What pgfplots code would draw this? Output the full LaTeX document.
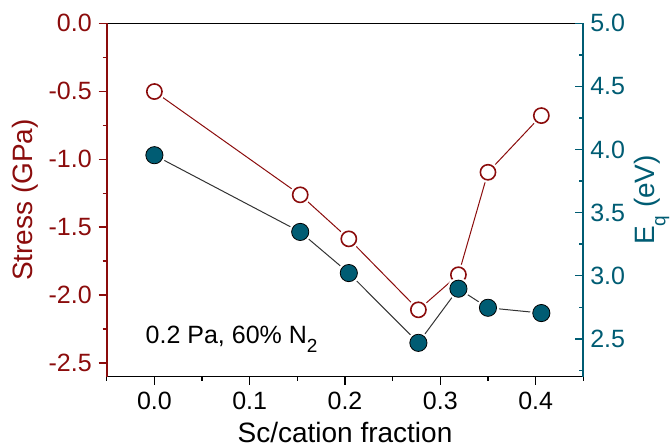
\documentclass[border=0pt]{standalone}
\usepackage{fontspec}
\setmainfont{Liberation Sans}
\usepackage{pgfplots}
\pgfplotsset{compat=1.18}
\definecolor{sred}{RGB}{139,12,12}
\definecolor{steal}{RGB}{0,92,115}
\newcommand{\lsub}[1]{\raisebox{-0.38em}{\fontsize{9.5}{10}\selectfont #1}}
\begin{document}
\begin{tikzpicture}
\begin{axis}[
  scale only axis, width=238.3pt, height=176.7pt,
  xmin=-0.05, xmax=0.45, ymin=-2.6, ymax=0,
  separate axis lines,
  x axis line style={black, line width=0.8pt},
  y axis line style={sred, line width=0.8pt},
  xtick={0,0.1,0.2,0.3,0.4},
  xticklabels={0.0,0.1,0.2,0.3,0.4},
  minor xtick={-0.05,0.05,0.15,0.25,0.35,0.45},
  ytick={-2.5,-2,-1.5,-1,-0.5,0},
  yticklabels={-2.5,-2.0,-1.5,-1.0,-0.5,0.0},
  minor ytick={-2.25,-1.75,-1.25,-0.75,-0.25},
  xtick pos=left, ytick pos=left, tick align=outside,
  major tick length=4pt, minor tick length=2pt,
  x tick style={black, line width=0.7pt},
  y tick style={sred, line width=0.7pt},
  yticklabel style={text=sred},
  tick label style={font=\fontsize{12.5}{15}\selectfont},
  label style={font=\fontsize{14}{17}\selectfont},
  xlabel={Sc/cation fraction},
  ylabel={Stress (GPa)},
  ylabel style={text=sred, at={(axis description cs:-0.170,0.5)}, anchor=center},
  xlabel style={at={(axis description cs:0.5,-0.187)}, anchor=base},
  clip=false,
]
\addplot[sred, line width=0.5pt] coordinates {(0,-0.502) (0.153,-1.262) (0.204,-1.586) (0.277,-2.108) (0.319,-1.850) (0.350,-1.096) (0.406,-0.679)};
\addplot[only marks, mark=*, mark size=5.1pt, white] coordinates {(0,-0.502) (0.153,-1.262) (0.204,-1.586) (0.277,-2.108) (0.319,-1.850) (0.350,-1.096) (0.406,-0.679)};
\addplot[only marks, mark=*, mark size=3.8pt, line width=0.8pt, mark options={draw=sred, fill=white}] coordinates {(0,-0.502) (0.153,-1.262) (0.204,-1.586) (0.277,-2.108) (0.319,-1.850) (0.350,-1.096) (0.406,-0.679)};
\node[anchor=base west, font=\fontsize{12.5}{15}\selectfont] at (axis description cs:0.067,0.095) {0.2 Pa, 60\% N\lsub{2}};
\coordinate (bbl) at (axis description cs:-0.224,-0.196);
\coordinate (btr) at (axis description cs:1.182,1.066);
\end{axis}
\begin{axis}[
  scale only axis, width=238.3pt, height=176.7pt,
  xmin=-0.05, xmax=0.45, ymin=2.2, ymax=5,
  axis x line=none, axis y line*=right,
  y axis line style={steal, line width=0.8pt},
  ytick={2.5,3,3.5,4,4.5,5},
  yticklabels={2.5,3.0,3.5,4.0,4.5,5.0},
  minor ytick={2.25,2.75,3.25,3.75,4.25,4.75},
  ytick pos=right, tick align=inside,
  major tick length=4pt, minor tick length=2pt,
  y tick style={steal, line width=0.7pt},
  yticklabel style={text=steal},
  tick label style={font=\fontsize{12.5}{15}\selectfont},
  label style={font=\fontsize{14}{17}\selectfont},
  ylabel={E\lsub{q} (eV)},
  ylabel style={text=steal, at={(axis description cs:1.144,0.5)}, anchor=center},
  clip=false,
]
\addplot[black!80, line width=0.5pt] coordinates {(0,3.955) (0.153,3.347) (0.204,3.021) (0.277,2.468) (0.319,2.897) (0.350,2.746) (0.406,2.704)};
\addplot[only marks, mark=*, mark size=5.4pt, white] coordinates {(0,3.955) (0.153,3.347) (0.204,3.021) (0.277,2.468) (0.319,2.897) (0.350,2.746) (0.406,2.704)};
\addplot[only marks, mark=*, mark size=4.3pt, mark options={draw=none, fill=steal}] coordinates {(0,3.955) (0.153,3.347) (0.204,3.021) (0.277,2.468) (0.319,2.897) (0.350,2.746) (0.406,2.704)};
\end{axis}
\pgfresetboundingbox
\path[use as bounding box] (bbl) rectangle (btr);
\end{tikzpicture}
\end{document}
